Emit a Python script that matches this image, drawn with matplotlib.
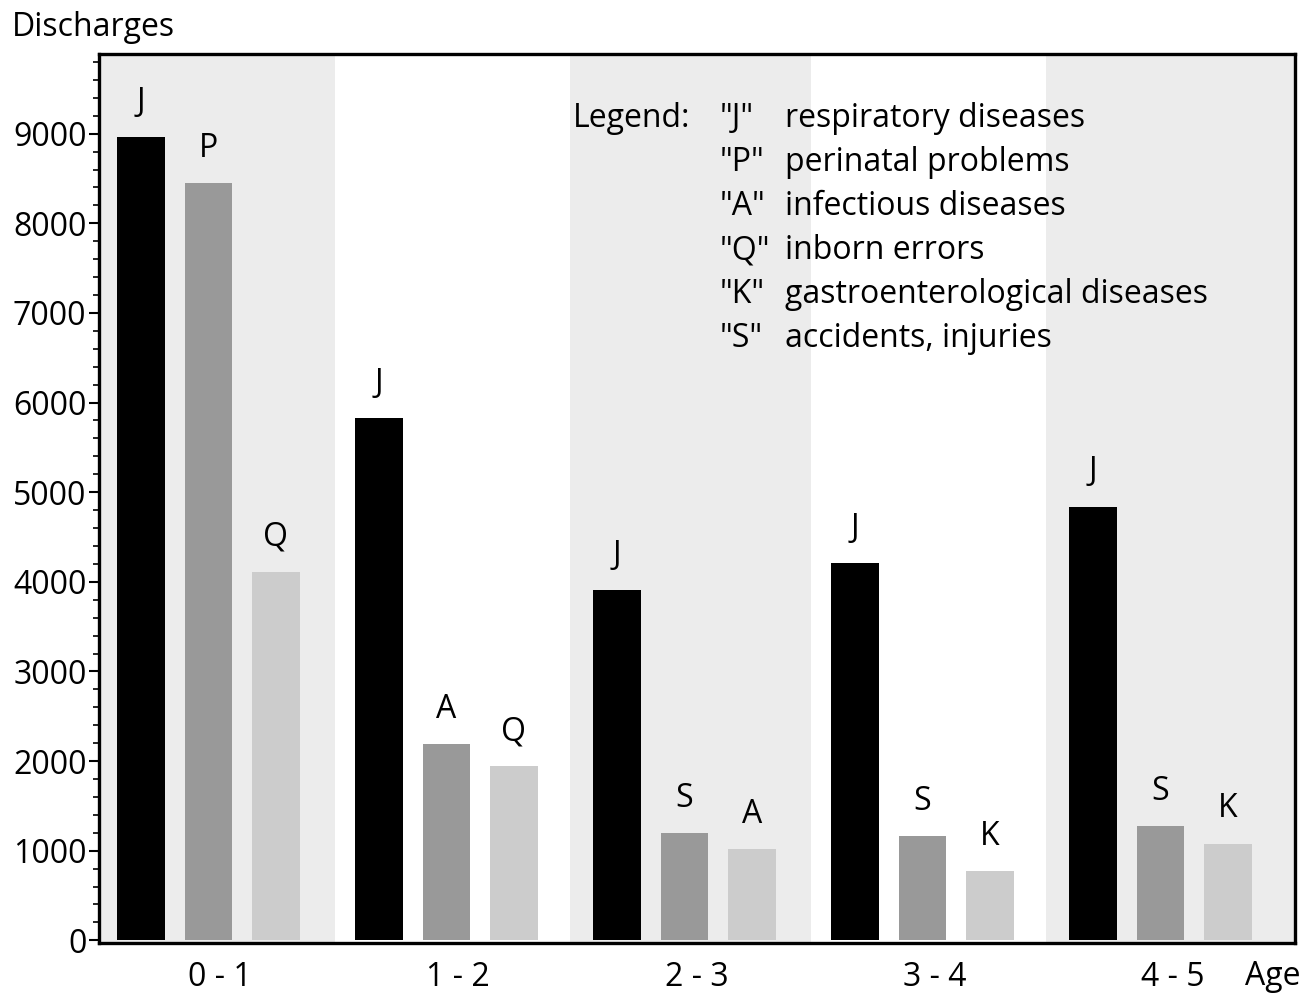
import matplotlib
matplotlib.use("Agg")
import matplotlib.pyplot as plt
from matplotlib.ticker import MultipleLocator

plt.rcParams['font.family'] = ['Open Sans', 'DejaVu Sans']

AGES = ["0 - 1", "1 - 2", "2 - 3", "3 - 4", "4 - 5"]
# three bars per age group: (letter, discharges)
FIRST_CODE = ["J", "J", "J", "J", "J"]
FIRST_VAL = [8960, 5830, 3910, 4210, 4840]
SECOND_CODE = ["P", "A", "S", "S", "S"]
SECOND_VAL = [8450, 2190, 1200, 1160, 1270]
THIRD_CODE = ["Q", "Q", "A", "K", "K"]
THIRD_VAL = [4110, 1940, 1020, 770, 1080]
LEGEND_CODES = ['"J"', '"P"', '"A"', '"Q"', '"K"', '"S"']
LEGEND_TEXT = ["respiratory diseases", "perinatal problems", "infectious diseases",
               "inborn errors", "gastroenterological diseases", "accidents, injuries"]

COLS = ["#000000", "#999999", "#cccccc"]
BAND = "#ececec"
W, OFF = 0.2, 0.283
FS = 23

fig = plt.figure(figsize=(13.04, 9.98), dpi=100)
ax = fig.add_axes([0.0759, 0.0551, 0.9171, 0.8909])
X0, X1 = -0.46, 4.565
ax.set_xlim(X0, X1)
ax.set_ylim(-30, 9890)

# alternating grey background bands (outer ones run to the frame)
for i in range(len(AGES)):
    if i % 2 == 0:
        lo = X0 if i == 0 else i - 0.48
        hi = X1 if i == len(AGES) - 1 else i + 0.53
        ax.axvspan(lo, hi, color=BAND, lw=0, zorder=0)

xs = list(range(len(AGES)))
for k, (codes, vals) in enumerate([(FIRST_CODE, FIRST_VAL), (SECOND_CODE, SECOND_VAL),
                                   (THIRD_CODE, THIRD_VAL)]):
    pos = [x + (k - 1) * OFF for x in xs]
    ax.bar(pos, vals, width=W, color=COLS[k], zorder=2)
    for p, v, c in zip(pos, vals, codes):
        ax.annotate(c, (p, v), xytext=(0, 13), textcoords="offset points",
                    ha="center", va="bottom", fontsize=FS)

ax.set_xticks([x + 0.05 for x in xs])
ax.set_xticklabels(AGES, fontsize=FS)
ax.tick_params(axis="x", length=0, pad=13)
ax.yaxis.set_major_locator(MultipleLocator(1000))
ax.yaxis.set_minor_locator(MultipleLocator(200))
ax.tick_params(axis="y", which="major", length=7, width=1.5, labelsize=FS, pad=2)
ax.tick_params(axis="y", which="minor", length=4, width=1.2)
for s in ax.spines.values():
    s.set_linewidth(2.4)

fig.text(0.009, 0.972, "Discharges", fontsize=FS, ha="left", va="center")
fig.text(0.997, 0.022, "Age", fontsize=FS, ha="right", va="center")

# text legend
ax.text(0.396, 0.927, "Legend:", transform=ax.transAxes, fontsize=FS, va="center")
for j, (c, t) in enumerate(zip(LEGEND_CODES, LEGEND_TEXT)):
    y = 0.927 - j * 0.0495
    ax.text(0.519, y, c, transform=ax.transAxes, fontsize=FS, va="center")
    ax.text(0.574, y, t, transform=ax.transAxes, fontsize=FS, va="center")

fig.savefig("out.png", dpi=100)
